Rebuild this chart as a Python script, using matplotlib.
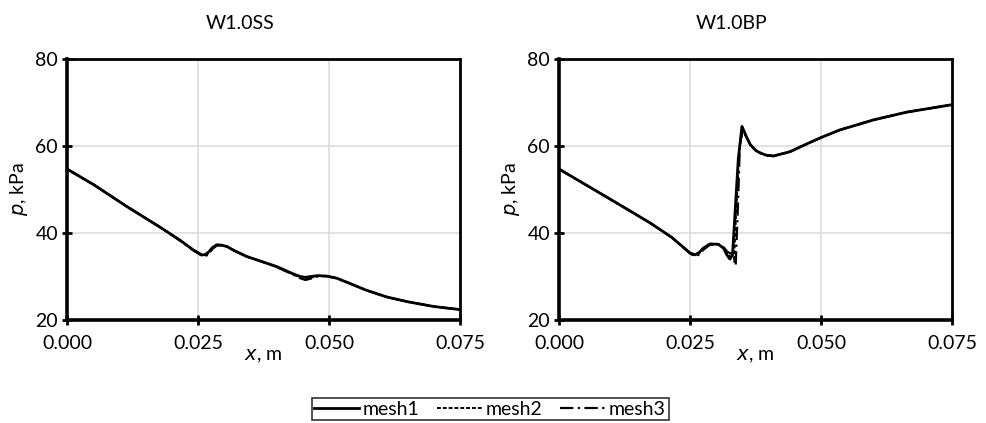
import matplotlib
matplotlib.use("Agg")
import matplotlib.pyplot as plt
from matplotlib.lines import Line2D

plt.rcParams['font.family'] = ['Lato', 'DejaVu Sans']

# W1.0SS (suction side)
ss_x = [0.0, 0.0051, 0.0114, 0.0178, 0.0215, 0.0241, 0.0250, 0.0257, 0.0263, 0.0270,
        0.0278, 0.0286, 0.0295, 0.0305, 0.0320, 0.0343, 0.0370, 0.0400, 0.0430, 0.0445,
        0.0455, 0.0465, 0.0478, 0.0495, 0.0515, 0.0540, 0.0570, 0.0610, 0.0650, 0.0700,
        0.0750]
ss_p1 = [54.7, 51.1, 46.1, 41.3, 38.4, 36.1, 35.5, 35.0, 35.0, 35.6,
         36.7, 37.3, 37.2, 36.9, 35.9, 34.6, 33.5, 32.3, 30.7, 30.0,
         29.8, 30.0, 30.2, 30.1, 29.6, 28.4, 26.9, 25.3, 24.2, 23.1,
         22.4]
ss_p2 = [54.7, 51.1, 46.1, 41.3, 38.4, 36.0, 35.4, 34.9, 34.8, 35.3,
         36.5, 37.2, 37.2, 36.9, 35.9, 34.6, 33.5, 32.2, 30.6, 29.7,
         29.4, 29.7, 30.1, 30.1, 29.6, 28.4, 26.9, 25.3, 24.2, 23.1,
         22.4]
ss_p3 = [54.7, 51.1, 46.1, 41.3, 38.3, 36.0, 35.3, 34.8, 34.6, 35.1,
         36.4, 37.1, 37.2, 36.9, 35.9, 34.6, 33.5, 32.2, 30.5, 29.6,
         29.2, 29.5, 30.0, 30.1, 29.6, 28.4, 26.9, 25.3, 24.2, 23.1,
         22.4]

# W1.0BP (back pressure)
bp_x1 = [0.0, 0.0055, 0.0110, 0.0174, 0.0215, 0.0250, 0.0260, 0.0268, 0.0275, 0.0288,
         0.0304, 0.0314, 0.0320, 0.0326, 0.0331, 0.0336, 0.0342, 0.0349, 0.0352, 0.0358,
         0.0365, 0.0375, 0.0384, 0.0395, 0.0409, 0.0441, 0.0473, 0.0501, 0.0536, 0.0600,
         0.0664, 0.0750]
bp_p1 = [54.7, 50.8, 46.9, 42.3, 39.0, 35.4, 35.0, 35.6, 36.5, 37.5,
         37.4, 36.5, 35.0, 34.0, 35.0, 45.0, 57.0, 64.5, 63.7, 62.0,
         60.3, 59.0, 58.4, 57.9, 57.7, 58.7, 60.5, 62.0, 63.7, 66.0,
         67.8, 69.5]
bp_x2 = [0.0, 0.0055, 0.0110, 0.0174, 0.0215, 0.0250, 0.0260, 0.0268, 0.0275, 0.0288,
         0.0304, 0.0314, 0.0322, 0.0328, 0.0334, 0.0338, 0.0344, 0.0350, 0.0353, 0.0358,
         0.0365, 0.0375, 0.0384, 0.0395, 0.0409, 0.0441, 0.0473, 0.0501, 0.0536, 0.0600,
         0.0664, 0.0750]
bp_p2 = [54.7, 50.8, 46.9, 42.3, 39.0, 35.3, 34.8, 35.3, 36.3, 37.4,
         37.4, 36.6, 35.2, 34.4, 34.0, 45.0, 59.0, 63.5, 63.0, 61.9,
         60.3, 59.0, 58.4, 57.9, 57.7, 58.7, 60.5, 62.0, 63.7, 66.0,
         67.8, 69.5]
bp_x3 = [0.0, 0.0055, 0.0110, 0.0174, 0.0215, 0.0250, 0.0260, 0.0268, 0.0275, 0.0288,
         0.0304, 0.0314, 0.0322, 0.0330, 0.0337, 0.0341, 0.0345, 0.0350, 0.0353, 0.0358,
         0.0365, 0.0375, 0.0384, 0.0395, 0.0409, 0.0441, 0.0473, 0.0501, 0.0536, 0.0600,
         0.0664, 0.0750]
bp_p3 = [54.7, 50.8, 46.9, 42.3, 39.0, 35.3, 34.6, 35.1, 36.1, 37.3,
         37.4, 36.7, 35.6, 35.2, 32.5, 45.0, 60.0, 63.8, 63.2, 62.0,
         60.3, 59.0, 58.4, 57.9, 57.7, 58.7, 60.5, 62.0, 63.7, 66.0,
         67.8, 69.5]

titles = ["W1.0SS", "W1.0BP"]
xticks = [0.0, 0.025, 0.05, 0.075]
xticklabels = ["0.000", "0.025", "0.050", "0.075"]
yticks = [20, 40, 60, 80]

fig = plt.figure(figsize=(9.86, 4.23), dpi=100)
ax1 = fig.add_axes([0.068, 0.2435, 0.3985, 0.617])
ax2 = fig.add_axes([0.567, 0.2435, 0.3986, 0.617])

styles = [dict(ls='-', lw=2.0), dict(ls=(0, (2, 1)), lw=1.4), dict(ls=(0, (6, 2, 1, 2)), lw=1.6)]

ax1.plot(ss_x, ss_p3, color='black', **styles[2])
ax1.plot(ss_x, ss_p2, color='black', **styles[1])
ax1.plot(ss_x, ss_p1, color='black', **styles[0])
ax2.plot(bp_x3, bp_p3, color='black', **styles[2])
ax2.plot(bp_x2, bp_p2, color='black', **styles[1])
ax2.plot(bp_x1, bp_p1, color='black', **styles[0])

for ax, t in zip([ax1, ax2], titles):
    ax.set_xlim(0, 0.075)
    ax.set_ylim(20, 80)
    ax.set_xticks(xticks)
    ax.set_xticklabels(xticklabels)
    ax.set_yticks(yticks)
    ax.grid(True, color='#dddddd', lw=1.2)
    ax.set_axisbelow(True)
    for s in ['left', 'bottom']:
        ax.spines[s].set_linewidth(2.6)
    for s in ['top', 'right']:
        ax.spines[s].set_linewidth(2.0)
    ax.tick_params(direction='inout', length=7, width=2, labelsize=14, colors='black', pad=3)
    ax.tick_params(axis='x', pad=7)
    ax.set_xlabel("$x$, m", fontsize=14, labelpad=-3)
    ax.set_ylabel("$p$, kPa", fontsize=14, labelpad=4)
    bb = ax.get_position()
    fig.text(bb.x0 + bb.width / 2 - 0.024, 0.945, t, ha='center', va='center', fontsize=14)

handles = [Line2D([], [], color='black', **styles[0]),
           Line2D([], [], color='black', **styles[1]),
           Line2D([], [], color='black', **styles[2])]
leg = fig.legend(handles, ["mesh1", "mesh2", "mesh3"], loc='center', bbox_to_anchor=(0.497, 0.033),
                 ncol=3, frameon=True, fancybox=False, fontsize=14, handlelength=2.3,
                 handletextpad=0.2, columnspacing=0.9, borderpad=0.15)
leg.get_frame().set_edgecolor('black')
leg.get_frame().set_linewidth(1.2)

fig.savefig("out.png", dpi=100)
